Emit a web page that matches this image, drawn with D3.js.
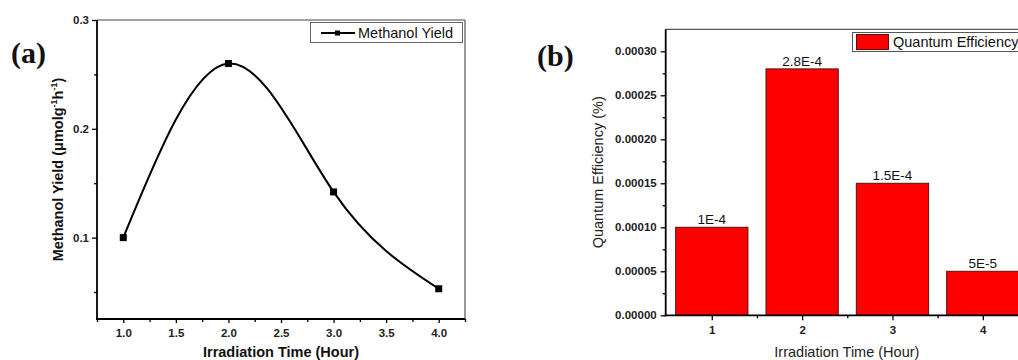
<!DOCTYPE html>
<html><head><meta charset="utf-8">
<script src="https://cdn.jsdelivr.net/npm/d3@7"></script>
<style>body{margin:0;background:#fff}svg{display:block}text{font-family:"Liberation Sans",Arial,sans-serif}</style>
</head><body><svg id="c" width="1018" height="360"></svg>
<script>
// ---- Data ----
const timeA = [1, 2, 3, 4];
const methanolYield = [0.1, 0.26, 0.142, 0.053];
const yTicksA = [0.1, 0.2, 0.3];
const yMinorA = [0.05, 0.15, 0.25];
const xTicksA = [1.0, 1.5, 2.0, 2.5, 3.0, 3.5, 4.0];
const xMinorA = [0.75, 1.25, 1.75, 2.25, 2.75, 3.25, 3.75, 4.25];

const timeB = [1, 2, 3, 4];
const quantumEff = [0.0001, 0.00028, 0.00015, 0.00005];
const qeLabels = ["1E-4", "2.8E-4", "1.5E-4", "5E-5"];
const yTicksB = [0, 0.00005, 0.0001, 0.00015, 0.0002, 0.00025, 0.0003];
const yMinorB = [0.000025, 0.000075, 0.000125, 0.000175, 0.000225, 0.000275];
const xTicksB = [1, 2, 3, 4];
const xMinorB = [1.5, 2.5, 3.5];

const svg = d3.select("#c");

function styleAxis(g) {
  g.select(".domain").remove();
  g.selectAll(".tick line").attr("stroke", "#000").attr("stroke-width", 1.3);
}

// ---------- Panel (a) ----------
{
  const L = 97, R = 465, T = 20, B = 319;
  const x = d3.scaleLinear().domain([0.75, 4.25]).range([L, R]);
  const y = d3.scaleLinear().domain([0.0252, 0.3]).range([B, T]);
  const g = svg.append("g");
  g.append("line").attr("x1", L).attr("x2", R).attr("y1", T).attr("y2", T).attr("stroke", "#444").attr("stroke-width", 1.2);
  g.append("line").attr("x1", R).attr("x2", R).attr("y1", T).attr("y2", B).attr("stroke", "#777").attr("stroke-width", 1.5);

  const ya = g.append("g").attr("transform", `translate(${L},0)`)
    .call(d3.axisLeft(y).tickValues(yTicksA).tickSize(5).tickPadding(3).tickFormat(d3.format(".1f")));
  const ym = g.append("g").attr("transform", `translate(${L},0)`)
    .call(d3.axisLeft(y).tickValues(yMinorA).tickSize(3).tickFormat(""));
  const xa = g.append("g").attr("transform", `translate(0,${B})`)
    .call(d3.axisBottom(x).tickValues(xTicksA).tickSize(4).tickPadding(6).tickFormat(d3.format(".1f")));
  const xm = g.append("g").attr("transform", `translate(0,${B})`)
    .call(d3.axisBottom(x).tickValues(xMinorA).tickSize(3).tickFormat(""));
  [ya, ym, xa, xm].forEach(styleAxis);
  g.append("line").attr("x1", L).attr("x2", L).attr("y1", T).attr("y2", B + 1).attr("stroke", "#000").attr("stroke-width", 1.8);
  g.append("line").attr("x1", L - 1).attr("x2", R).attr("y1", B).attr("y2", B).attr("stroke", "#000").attr("stroke-width", 1.8);
  [ya, xa].forEach(a => a.selectAll("text").attr("font-size", 11.5).attr("font-weight", "bold").attr("fill", "#222")
    .style("font-family", '"Liberation Sans",Arial,sans-serif'));

  const pts = timeA.map((t, i) => [t, methanolYield[i]]);
  g.append("path").datum(pts)
    .attr("d", d3.line().x(d => x(d[0])).y(d => y(d[1])).curve(d3.curveNatural))
    .attr("fill", "none").attr("stroke", "#000").attr("stroke-width", 2);
  g.selectAll("rect.m").data(pts).join("rect").attr("class", "m")
    .attr("x", d => x(d[0]) - 3.5).attr("y", d => y(d[1]) - 3.5).attr("width", 7).attr("height", 7).attr("fill", "#000");

  // legend
  g.append("rect").attr("x", 310.5).attr("y", 22.5).attr("width", 152).attr("height", 20).attr("fill", "#fff").attr("stroke", "#666").attr("stroke-width", 1);
  g.append("line").attr("x1", 321).attr("x2", 355).attr("y1", 33).attr("y2", 33).attr("stroke", "#000").attr("stroke-width", 2);
  g.append("rect").attr("x", 335).attr("y", 30.5).attr("width", 5).attr("height", 5).attr("fill", "#000");
  g.append("text").attr("x", 358).attr("y", 38).attr("font-size", 14.5).attr("fill", "#111").text("Methanol Yield");

  // axis titles
  g.append("text").attr("x", (L + R) / 2).attr("y", 357).attr("text-anchor", "middle")
    .attr("font-size", 14.5).attr("font-weight", "bold").attr("fill", "#111").text("Irradiation Time (Hour)");
  const yt = g.append("text").attr("transform", `translate(63,${(T + B) / 2}) rotate(-90)`).attr("text-anchor", "middle")
    .attr("font-size", 14.5).attr("font-weight", "bold").attr("fill", "#111");
  yt.append("tspan").text("Methanol Yield (μmolg");
  yt.append("tspan").attr("font-size", 9).attr("dy", -6).text("-1");
  yt.append("tspan").attr("dy", 6).text("h");
  yt.append("tspan").attr("font-size", 9).attr("dy", -6).text("-1");
  yt.append("tspan").attr("dy", 6).text(")");

  g.append("text").attr("x", 11).attr("y", 63).attr("font-size", 30).attr("font-weight", "bold")
    .style("font-family", '"Liberation Serif","Times New Roman",serif').attr("fill", "#111").text("(a)");
}

// ---------- Panel (b) ----------
{
  const L = 665.7, R = 1028, T = 29.3, B = 315.3;
  const x = d3.scaleLinear().domain([0.49, 4.5]).range([L, R]);
  const y = d3.scaleLinear().domain([0, 0.000325]).range([B, T]);
  const g = svg.append("g");
  g.append("line").attr("x1", L).attr("x2", R).attr("y1", T).attr("y2", T).attr("stroke", "#555").attr("stroke-width", 1.2);

  const bw = (x(2) - x(1)) * 0.8;
  g.selectAll("rect.bar").data(timeB).join("rect").attr("class", "bar")
    .attr("x", d => x(d) - bw / 2).attr("width", bw)
    .attr("y", (d, i) => y(quantumEff[i])).attr("height", (d, i) => B - y(quantumEff[i]))
    .attr("fill", "#ff0000").attr("stroke", "#5a1010").attr("stroke-width", 1);
  g.selectAll("text.bl").data(timeB).join("text").attr("class", "bl")
    .attr("x", d => x(d)).attr("y", (d, i) => y(quantumEff[i]) - 3).attr("text-anchor", "middle")
    .attr("font-size", 13.5).attr("fill", "#111").text((d, i) => qeLabels[i]);

  const ya = g.append("g").attr("transform", `translate(${L},0)`)
    .call(d3.axisLeft(y).tickValues(yTicksB).tickSize(5).tickPadding(4).tickFormat(d3.format(".5f")));
  const ym = g.append("g").attr("transform", `translate(${L},0)`)
    .call(d3.axisLeft(y).tickValues(yMinorB).tickSize(3).tickFormat(""));
  const xa = g.append("g").attr("transform", `translate(0,${B})`)
    .call(d3.axisBottom(x).tickValues(xTicksB).tickSize(5).tickPadding(6).tickFormat(d3.format("d")));
  const xm = g.append("g").attr("transform", `translate(0,${B})`)
    .call(d3.axisBottom(x).tickValues(xMinorB).tickSize(3).tickFormat(""));
  [ya, ym, xa, xm].forEach(styleAxis);
  g.append("line").attr("x1", L).attr("x2", L).attr("y1", T).attr("y2", B + 1).attr("stroke", "#000").attr("stroke-width", 1.8);
  g.append("line").attr("x1", L - 1).attr("x2", R).attr("y1", B).attr("y2", B).attr("stroke", "#000").attr("stroke-width", 1.8);
  [ya, xa].forEach(a => a.selectAll("text").attr("font-size", 11.5).attr("font-weight", "bold").attr("fill", "#222")
    .style("font-family", '"Liberation Sans",Arial,sans-serif'));

  // legend
  g.append("rect").attr("x", 852.5).attr("y", 32.5).attr("width", 180).attr("height", 19).attr("fill", "#fff").attr("stroke", "#555").attr("stroke-width", 1);
  g.append("rect").attr("x", 856.5).attr("y", 34.5).attr("width", 32).attr("height", 15).attr("fill", "#ff0000").attr("stroke", "#5a1010").attr("stroke-width", 1);
  g.append("text").attr("x", 893).attr("y", 47).attr("font-size", 14.5).attr("fill", "#111").text("Quantum Efficiency");

  g.append("text").attr("x", (L + R) / 2).attr("y", 357).attr("text-anchor", "middle")
    .attr("font-size", 14.5).attr("fill", "#222").text("Irradiation Time (Hour)");
  g.append("text").attr("transform", `translate(603,${(T + B) / 2}) rotate(-90)`).attr("text-anchor", "middle")
    .attr("font-size", 14.5).attr("fill", "#222").text("Quantum Efficiency (%)");

  g.append("text").attr("x", 537).attr("y", 66).attr("font-size", 30).attr("font-weight", "bold")
    .style("font-family", '"Liberation Serif","Times New Roman",serif').attr("fill", "#111").text("(b)");
}
</script></body></html>
